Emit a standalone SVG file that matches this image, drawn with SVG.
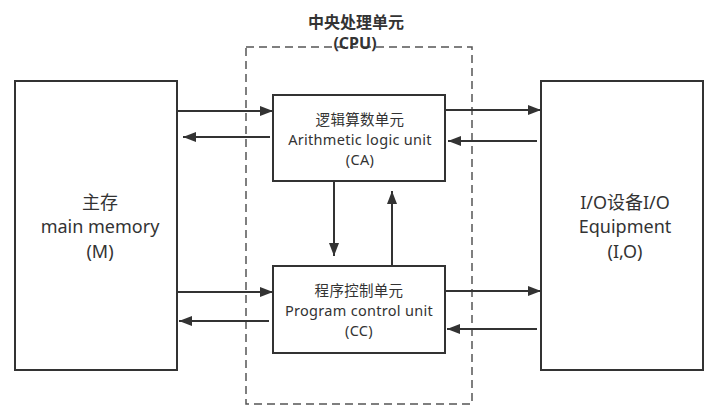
<svg xmlns="http://www.w3.org/2000/svg" width="717" height="418" viewBox="0 0 717 418">
<defs>
<marker id="ah" viewBox="0 0 13 10" refX="13" refY="5" markerWidth="13" markerHeight="10" markerUnits="userSpaceOnUse" orient="auto">
<path d="M0,0 L13,5 L0,10 z" fill="#333"/>
</marker>
<style>
.box{fill:#fff;stroke:#333;stroke-width:2}
.dash{fill:none;stroke:#555;stroke-width:1.5;stroke-dasharray:8 5}
.ln{fill:none;stroke:#333;stroke-width:2;marker-end:url(#ah)}
.t{font-family:"Noto Sans","Noto Sans CJK SC",sans-serif;fill:#333;text-anchor:middle}
.s{font-size:14.5px;letter-spacing:0.3px}
.m{font-size:18px}
.b{font-size:16px;font-weight:bold}
</style>
</defs>
<rect width="717" height="418" fill="#fff"/>
<g id="cpu">
<rect class="dash" x="246" y="47" width="226" height="357"/>
<text class="t b" x="356" y="28">中央处理单元<tspan x="355" y="49">(CPU)</tspan></text>
</g>
<g id="memory">
<rect class="box" x="15" y="81" width="162" height="289"/>
<text class="t m" x="100" y="209">主存<tspan x="100" y="233">main memory</tspan><tspan x="100" y="258">(M)</tspan></text>
</g>
<g id="io">
<rect class="box" x="541" y="81" width="162" height="289"/>
<text class="t m" x="625" y="209">I/O设备I/O<tspan x="625" y="233">Equipment</tspan><tspan x="625" y="258">(I,O)</tspan></text>
</g>
<g id="alu">
<rect class="box" x="273" y="95" width="172" height="86"/>
<text class="t s" x="360" y="124.5">逻辑算数单元<tspan x="360" y="144.5">Arithmetic logic unit</tspan><tspan x="360" y="164.5">(CA)</tspan></text>
</g>
<g id="cc">
<rect class="box" x="273" y="266" width="172" height="87"/>
<text class="t s" x="359" y="296">程序控制单元<tspan x="359" y="316">Program control unit</tspan><tspan x="359" y="336">(CC)</tspan></text>
</g>
<g id="connectors">
<line class="ln" x1="177" y1="111" x2="273" y2="111"/>
<line class="ln" x1="270" y1="137" x2="183" y2="137"/>
<line class="ln" x1="177" y1="292" x2="273" y2="292"/>
<line class="ln" x1="269" y1="321" x2="179" y2="321"/>
<line class="ln" x1="445" y1="110" x2="541" y2="110"/>
<line class="ln" x1="537" y1="141" x2="448" y2="141"/>
<line class="ln" x1="445" y1="291" x2="541" y2="291"/>
<line class="ln" x1="537" y1="329" x2="447" y2="329"/>
<line class="ln" x1="334" y1="181" x2="334" y2="256"/>
<line class="ln" x1="392" y1="266" x2="392" y2="191"/>
</g>
</svg>
